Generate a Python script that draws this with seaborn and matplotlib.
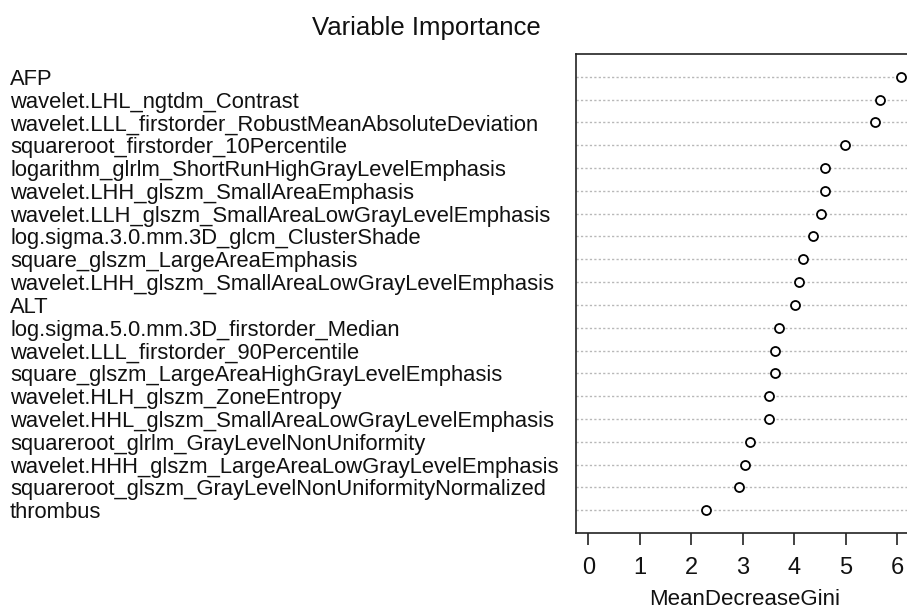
import numpy as np
import pandas as pd
import matplotlib
matplotlib.use("Agg")
import matplotlib.pyplot as plt
import seaborn as sns

features = [
    "AFP",
    "wavelet.LHL_ngtdm_Contrast",
    "wavelet.LLL_firstorder_RobustMeanAbsoluteDeviation",
    "squareroot_firstorder_10Percentile",
    "logarithm_glrlm_ShortRunHighGrayLevelEmphasis",
    "wavelet.LHH_glszm_SmallAreaEmphasis",
    "wavelet.LLH_glszm_SmallAreaLowGrayLevelEmphasis",
    "log.sigma.3.0.mm.3D_glcm_ClusterShade",
    "square_glszm_LargeAreaEmphasis",
    "wavelet.LHH_glszm_SmallAreaLowGrayLevelEmphasis",
    "ALT",
    "log.sigma.5.0.mm.3D_firstorder_Median",
    "wavelet.LLL_firstorder_90Percentile",
    "square_glszm_LargeAreaHighGrayLevelEmphasis",
    "wavelet.HLH_glszm_ZoneEntropy",
    "wavelet.HHL_glszm_SmallAreaLowGrayLevelEmphasis",
    "squareroot_glrlm_GrayLevelNonUniformity",
    "wavelet.HHH_glszm_LargeAreaLowGrayLevelEmphasis",
    "squareroot_glszm_GrayLevelNonUniformityNormalized",
    "thrombus",
]
mean_decrease_gini = [6.07, 5.67, 5.58, 4.99, 4.60, 4.60, 4.53, 4.36, 4.17, 4.09,
                      4.01, 3.70, 3.62, 3.62, 3.51, 3.51, 3.15, 3.05, 2.92, 2.28]
xticks = [0, 1, 2, 3, 4, 5, 6]

sns.set_style("white")
plt.rcParams["font.family"] = ["Liberation Sans", "DejaVu Sans"]

df = pd.DataFrame({"feature": features, "MeanDecreaseGini": mean_decrease_gini})
n = len(features)

W, H = 907, 611
fig = plt.figure(figsize=(W / 100, H / 100), dpi=100)
ax_left, ax_right, ax_top, ax_bottom = 576, 913, 54, 533
ax = fig.add_axes([ax_left / W, 1 - ax_bottom / H, (ax_right - ax_left) / W, (ax_bottom - ax_top) / H])

for i in range(n):
    ax.axhline(i, color="#B8B8B8", linewidth=1.0, linestyle=(0, (1.6, 1.6)), zorder=1)

sns.scatterplot(data=df, x="MeanDecreaseGini", y="feature", ax=ax, s=42,
                facecolor="white", edgecolor="black", linewidth=1.3, zorder=3, legend=False)

xmax = max(mean_decrease_gini)
ax.set_xlim(-0.04 * xmax, 1.04 * xmax)
ax.set_ylim(n, -1)

ax.set_yticks(range(n))
ax.set_yticklabels(features, ha="left", fontsize=15.8, color="#111111")
ax.tick_params(axis="y", length=0, pad=(ax_left - 10) * 0.72)
ax.set_ylabel("")

ax.set_xticks(xticks)
ax.set_xticklabels([str(t) for t in xticks], fontsize=17, color="#111111")
ax.tick_params(axis="x", length=8.6, width=1.2, color="#222222", pad=9, direction="out", bottom=True)
ax.set_xlabel("MeanDecreaseGini", fontsize=16, color="#111111", labelpad=7)

for sp in ax.spines.values():
    sp.set_visible(True)
    sp.set_color("#222222")
    sp.set_linewidth(1.2)

fig.text(426 / W, 1 - 35 / H, "Variable Importance", ha="center", va="baseline",
         fontsize=18.5, color="#111111")

fig.savefig("out.png", dpi=100)
